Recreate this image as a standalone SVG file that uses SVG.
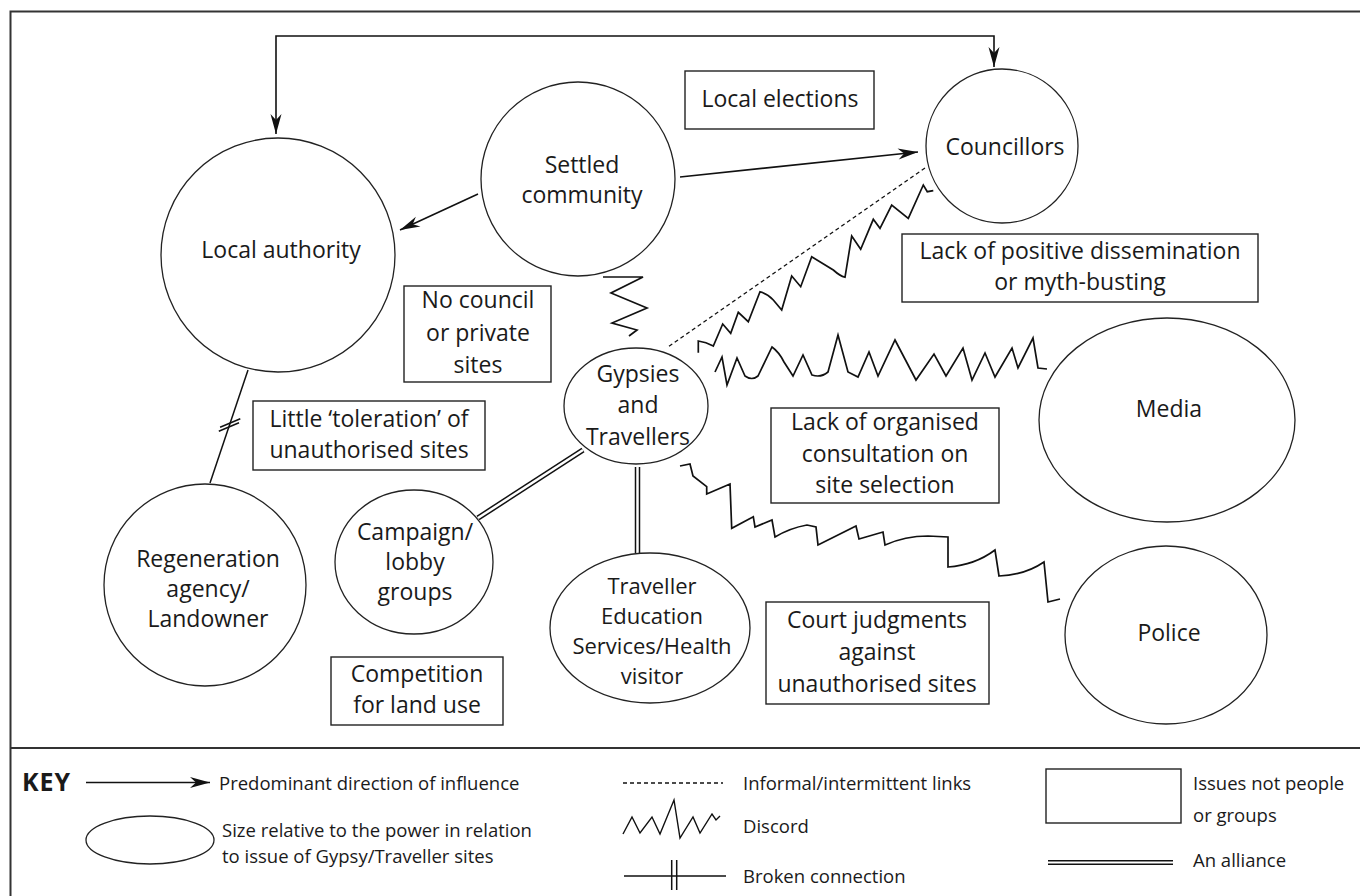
<svg xmlns="http://www.w3.org/2000/svg" width="1360" height="896" viewBox="0 0 1360 896">
<defs>
<style>
.t{font-family:"Open Sans","Liberation Sans",sans-serif;font-size:23px;fill:#1a1a1a;text-anchor:middle}
.ts{font-size:22px}
.k{font-family:"Open Sans","Liberation Sans",sans-serif;font-size:18.5px;fill:#1a1a1a}
.kb{font-family:"Open Sans","Liberation Sans",sans-serif;font-size:25px;font-weight:bold;fill:#1a1a1a;letter-spacing:1px}
.n{fill:none;stroke:#222;stroke-width:1.3}
.b{fill:none;stroke:#222;stroke-width:1.4}
.arr{fill:none;stroke:#111;stroke-width:1.6}
.dis{fill:none;stroke:#111;stroke-width:1.7;stroke-linejoin:miter}
.dash{fill:none;stroke:#111;stroke-width:1.3;stroke-dasharray:4 3}
.alo{fill:none;stroke:#111;stroke-width:5.5}
.ali{fill:none;stroke:#fff;stroke-width:2.5}
.ln{fill:none;stroke:#111;stroke-width:1.5}
</style>
<marker id="ah" viewBox="-21 -7 22 14" refX="0" refY="0" markerWidth="22" markerHeight="14" markerUnits="userSpaceOnUse" orient="auto-start-reverse">
<path d="M0,0 L-20,-5.5 L-14,0 L-20,5.5 Z" fill="#111"/>
</marker>
</defs>
<rect x="10.5" y="11.5" width="1360" height="900" fill="#fff" stroke="#333" stroke-width="2"/>
<line x1="10" y1="748" x2="1360" y2="748" stroke="#333" stroke-width="2"/>

<g id="connectors">
<path class="arr" d="M276,134 V36 H994 V67" marker-start="url(#ah)" marker-end="url(#ah)"/>
<path class="arr" d="M680,177 L918,152" marker-end="url(#ah)"/>
<path class="arr" d="M478,194 L400,230" marker-end="url(#ah)"/>
<path class="dash" d="M925,168 L668,347"/>
<path class="dis" d="M603,277 L643,277 L611,293 L647,308 L612,323 L637,330 L629,336"/>
<path class="dis" d="M698.3,352.7 L698.3,341 Q706,342 713.3,346 L722.7,324 L730.7,333.3 L738.3,312.3 L748.3,321.7 L760,291.7 Q768,294 773.3,300 L781.7,310 L791.7,276 L800.7,286.7 L811.7,256.7 L833.3,270 Q840,276 845,277.3 L851.7,236 L860.7,249.3 L873.3,219.3 L880,228.3 L891.7,205 L908.3,218.3 L923.3,185 L927.3,191.7 L933.3,190.7"/>
<path class="dis" d="M715,372 L722,357 L727,385 L737,358 L745,376 Q752,381 758,376 L772,347 Q779,352 784,362 L793,376 L803,355 L812,375 Q821,378 828,372 L838,335 L848,372 L858,377 L869,352 L878,376 L895,340 L916,380 L934,354 L946,376 L963,348 L972,380 L985,353 L995,377 L1012,348 L1018,368 L1033,338 L1038,368 L1047,369"/>
<path class="dis" d="M680,466 L690,464 L693,476 L706.7,486.7 L706.7,494 L730,484 L731.7,528.3 L753.3,516.7 L755,527 L772,520 L775,537 Q790,528 807,525 L816,527 L818,545 L856,526 L859,539 L883,532 L885,545 Q905,536 928,536 L948,537 L948,567 Q975,565 995,550 L999,576 Q1025,575 1044,562 L1048,602 L1060,599"/>
<path class="ln" d="M248,370 L210,483"/>
<path class="ln" d="M220.1,427.3 L240.3,418.7 M218.8,431.3 L239,422.7"/>
<path class="alo" d="M583,450 L478,518"/>
<path class="ali" d="M583,450 L478,518"/>
<path class="alo" d="M637.5,467 L637.5,553"/>
<path class="ali" d="M637.5,467 L637.5,553"/>
</g>

<g id="local-authority"><ellipse class="n" cx="278" cy="255" rx="117" ry="117"/><text class="t" x="281" y="258">Local authority</text></g>
<g id="settled-community"><ellipse class="n" cx="578" cy="179" rx="97" ry="97"/><text class="t" x="582" y="173">Settled</text><text class="t" x="582" y="203">community</text></g>
<g id="councillors"><ellipse class="n" cx="1002" cy="146" rx="76" ry="77"/><text class="t" x="1005" y="155">Councillors</text></g>
<g id="gypsies-travellers"><ellipse class="n" cx="636" cy="406" rx="72" ry="58"/><text class="t" x="638" y="382">Gypsies</text><text class="t" x="638" y="413">and</text><text class="t" x="638" y="445">Travellers</text></g>
<g id="media"><ellipse class="n" cx="1167" cy="420" rx="128" ry="102"/><text class="t" x="1169" y="417">Media</text></g>
<g id="police"><ellipse class="n" cx="1166" cy="635" rx="101" ry="89"/><text class="t" x="1169" y="641">Police</text></g>
<g id="traveller-education"><ellipse class="n" cx="650" cy="628" rx="100" ry="75"/><text class="t ts" x="652" y="594">Traveller</text><text class="t ts" x="652" y="624">Education</text><text class="t ts" x="652" y="654">Services/Health</text><text class="t ts" x="652" y="684">visitor</text></g>
<g id="campaign-groups"><ellipse class="n" cx="414" cy="562" rx="79" ry="72"/><text class="t" x="415" y="540">Campaign/</text><text class="t" x="415" y="570">lobby</text><text class="t" x="415" y="600">groups</text></g>
<g id="regeneration-agency"><ellipse class="n" cx="205" cy="585" rx="101" ry="101"/><text class="t" x="208" y="567">Regeneration</text><text class="t" x="208" y="597">agency/</text><text class="t" x="208" y="627">Landowner</text></g>

<g id="local-elections"><rect class="b" x="685" y="71" width="189" height="58"/><text class="t" x="780" y="107">Local elections</text></g>
<g id="lack-dissemination"><rect class="b" x="902" y="234" width="356" height="68"/><text class="t" x="1080" y="259">Lack of positive dissemination</text><text class="t" x="1080" y="290">or myth-busting</text></g>
<g id="no-council-sites"><rect class="b" x="404" y="286" width="147" height="96"/><text class="t" x="478" y="308">No council</text><text class="t" x="478" y="341">or private</text><text class="t" x="478" y="373">sites</text></g>
<g id="little-toleration"><rect class="b" x="253" y="401" width="232" height="69"/><text class="t" x="369" y="427">Little ‘toleration’ of</text><text class="t" x="369" y="458">unauthorised sites</text></g>
<g id="lack-consultation"><rect class="b" x="771" y="408" width="228" height="95"/><text class="t" x="885" y="430">Lack of organised</text><text class="t" x="885" y="462">consultation on</text><text class="t" x="885" y="493">site selection</text></g>
<g id="court-judgments"><rect class="b" x="766" y="602" width="223" height="102"/><text class="t" x="877" y="628">Court judgments</text><text class="t" x="877" y="660">against</text><text class="t" x="877" y="692">unauthorised sites</text></g>
<g id="competition-land"><rect class="b" x="331" y="657" width="172" height="68"/><text class="t" x="417" y="682">Competition</text><text class="t" x="417" y="713">for land use</text></g>

<g id="key">
<text class="kb" x="22" y="791">KEY</text>
<path class="arr" d="M86,782.5 L210,782.5" marker-end="url(#ah)"/>
<text class="k" x="219" y="790">Predominant direction of influence</text>
<ellipse class="n" cx="150" cy="840" rx="64" ry="24"/>
<text class="k" x="222" y="837">Size relative to the power in relation</text>
<text class="k" x="222" y="863">to issue of Gypsy/Traveller sites</text>
<path class="dash" d="M623,783 L723,783"/>
<text class="k" x="743" y="790">Informal/intermittent links</text>
<path class="dis" d="M623,834 L632,817 L640,833 L652,817 L660,834 L674,800 L680,838 L693,817 L700,833 L712,814 L716,820 L720,816" style="stroke-width:1.4"/>
<text class="k" x="743" y="833">Discord</text>
<path class="ln" d="M624,876 L726,876 M671.7,860 L671.7,890 M676.7,860 L676.7,890"/>
<text class="k" x="743" y="883">Broken connection</text>
<rect class="b" x="1046" y="769" width="135" height="54"/>
<text class="k" x="1193" y="790">Issues not people</text>
<text class="k" x="1193" y="822">or groups</text>
<path class="alo" d="M1048,862.5 L1173,862.5" style="stroke-width:5"/>
<path class="ali" d="M1048,862.5 L1173,862.5" style="stroke-width:2"/>
<text class="k" x="1193" y="867">An alliance</text>
</g>
</svg>
